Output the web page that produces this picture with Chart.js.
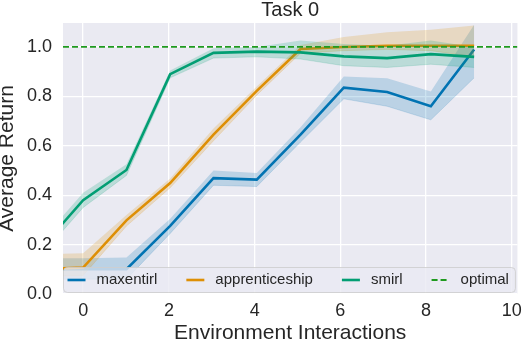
<!DOCTYPE html>
<html>
<head>
<meta charset="utf-8">
<script src="https://cdn.jsdelivr.net/npm/chart.js@4.4.1/dist/chart.umd.min.js"></script>
<style>
  html, body { margin: 0; padding: 0; background: #fff; }
  #wrap { width: 528px; height: 344px; }
</style>
</head>
<body>
<div id="wrap"><canvas id="chart-1"></canvas></div>
<script>
// values
const steps = [-1.01, 0, 1.01, 2.03, 3.04, 4.05, 5.07, 6.08, 7.09, 8.11, 9.12];

const maxentirl     = [0.10, 0.10, 0.10, 0.276, 0.469, 0.463, 0.645, 0.835, 0.818, 0.76, 0.99];
const maxentirlLow  = [0.06, 0.06, 0.06, 0.245, 0.44, 0.435, 0.615, 0.79, 0.76, 0.705, 0.875];
const maxentirlHigh = [0.145, 0.145, 0.148, 0.305, 0.50, 0.49, 0.675, 0.88, 0.873, 0.82, 1.09];

const apprenticeship     = [0.10, 0.107, 0.298, 0.449, 0.645, 0.822, 0.992, 1.0, 1.005, 1.005, 1.005];
const apprenticeshipLow  = [0.07, 0.075, 0.275, 0.43, 0.62, 0.805, 0.975, 0.985, 0.99, 0.985, 0.96];
const apprenticeshipHigh = [0.16, 0.165, 0.32, 0.468, 0.67, 0.84, 1.008, 1.04, 1.06, 1.07, 1.087];

const smirl     = [0.18, 0.38, 0.502, 0.89, 0.976, 0.981, 0.978, 0.962, 0.955, 0.971, 0.96];
const smirlLow  = [0.15, 0.35, 0.48, 0.875, 0.955, 0.96, 0.951, 0.924, 0.917, 0.93, 0.917];
const smirlHigh = [0.21, 0.41, 0.525, 0.905, 0.995, 1.0, 1.026, 1.012, 1.005, 1.026, 1.0];

const optimalValue = 1.0;

const xTicks = [0, 2, 4, 6, 8, 10];
const yTicks = [0, 0.2, 0.4, 0.6, 0.8, 1.0];
const xLimits = [-0.47, 10.13];
const yLimits = [0, 1.097];

const series = [
    { label: 'maxentirl', mean: maxentirl, low: maxentirlLow, high: maxentirlHigh, color: '#0173B2', band: 'rgba(1,115,178,0.2)' },
    { label: 'apprenticeship', mean: apprenticeship, low: apprenticeshipLow, high: apprenticeshipHigh, color: '#DE8F05', band: 'rgba(222,143,5,0.2)' },
    { label: 'smirl', mean: smirl, low: smirlLow, high: smirlHigh, color: '#029E73', band: 'rgba(2,158,115,0.2)' }
];
const optimalColor = '#1f9a1f';

const FONT = '"Liberation Sans", Arial, sans-serif';
const TEXT = '#262626';

const toPoints = (vals) => steps.map((x, i) => ({ x: x, y: vals[i] }));

// matplotlib draws later things on top; in Chart.js a lower order is drawn on top
let drawSeq = 100;
const datasets = [];
series.forEach((s) => {
    datasets.push({
        data: toPoints(s.high), borderWidth: 0, pointRadius: 0, fill: false,
        borderColor: 'transparent', order: drawSeq--, clip: 0
    });
    datasets.push({
        data: toPoints(s.low), borderWidth: 0.8, pointRadius: 0, fill: '-1',
        borderColor: s.band, backgroundColor: s.band, order: drawSeq--, clip: 0
    });
    datasets.push({
        label: s.label, data: toPoints(s.mean), borderWidth: 2.6, pointRadius: 0, fill: false,
        borderColor: s.color, order: drawSeq--, clip: 0, isLegend: true
    });
});
datasets.push({
    label: 'optimal',
    data: [{ x: xLimits[0], y: optimalValue }, { x: xLimits[1], y: optimalValue }],
    borderWidth: 1.8, borderDash: [6, 3], pointRadius: 0, fill: false,
    borderColor: optimalColor, order: drawSeq--, clip: 0, isLegend: true
});

// background, title and the in-axes legend
const decor = {
    id: 'decor',
    beforeDraw(chart) {
        const a = chart.chartArea;
        const c = chart.ctx;
        c.save();
        c.fillStyle = '#EAEAF2';
        c.fillRect(a.left, a.top, a.right - a.left, a.bottom - a.top);
        c.restore();
    },
    afterDraw(chart) {
        const a = chart.chartArea;
        const c = chart.ctx;
        c.save();
        c.fillStyle = TEXT;
        c.font = '20px ' + FONT;
        c.textAlign = 'center';
        c.textBaseline = 'alphabetic';
        c.fillText('Task 0', (a.left + a.right) / 2, 15.5);

        // legend box
        c.font = '15px ' + FONT;
        const items = chart.data.datasets.filter(d => d.isLegend);
        const boxL = a.left + 0.5, boxB = a.bottom - 1.5, boxH = 25;
        let x = boxL + 4;
        const layout = items.map((d) => {
            const it = { d: d, hx: x, tx: x + 29 };
            x = it.tx + c.measureText(d.label).width + 29;
            return it;
        });
        const boxR = x - 29 + 6.5;
        const r = 4;
        c.beginPath();
        c.roundRect(boxL, boxB - boxH, boxR - boxL, boxH, r);
        c.fillStyle = 'rgba(234,234,242,0.8)';
        c.fill();
        c.strokeStyle = 'rgba(204,204,204,0.8)';
        c.lineWidth = 1;
        c.stroke();

        const cy = boxB - boxH / 2;
        layout.forEach((it) => {
            c.beginPath();
            c.strokeStyle = it.d.borderColor;
            c.lineWidth = it.d.borderDash ? 1.8 : 2.6;
            c.setLineDash(it.d.borderDash || []);
            c.moveTo(it.hx, cy);
            c.lineTo(it.hx + 18, cy);
            c.stroke();
            c.setLineDash([]);
            c.fillStyle = TEXT;
            c.textAlign = 'left';
            c.textBaseline = 'middle';
            c.fillText(it.d.label, it.tx, cy);
        });
        c.restore();
    }
};

new Chart(document.getElementById('chart-1'), {
    type: 'line',
    data: { datasets: datasets },
    options: {
        responsive: true,
        maintainAspectRatio: false,
        animation: false,
        layout: { padding: { top: 23, right: 10, left: 0, bottom: 0 } },
        scales: {
            x: {
                type: 'linear',
                min: xLimits[0],
                max: xLimits[1],
                border: { display: false },
                grid: { color: '#ffffff', lineWidth: 1.3, drawTicks: false },
                afterBuildTicks: (scale) => { scale.ticks = xTicks.map(v => ({ value: v })); },
                afterFit: (scale) => { scale.height = 50; },
                ticks: {
                    color: TEXT, padding: 6, maxRotation: 0,
                    font: { family: FONT, size: 18 },
                    callback: (v) => String(v)
                },
                title: {
                    display: true, text: 'Environment Interactions', color: TEXT,
                    font: { family: FONT, size: 21, lineHeight: 1 },
                    padding: { top: 0, bottom: 0 }
                }
            },
            y: {
                min: yLimits[0],
                max: yLimits[1],
                border: { display: false },
                grid: { color: '#ffffff', lineWidth: 1.3, drawTicks: false },
                afterBuildTicks: (scale) => { scale.ticks = yTicks.map(v => ({ value: v })); },
                afterFit: (scale) => { scale.width = 63; },
                ticks: {
                    color: TEXT, padding: 11,
                    font: { family: FONT, size: 18 },
                    callback: (v) => v.toFixed(1)
                },
                title: {
                    display: true, text: 'Average Return', color: TEXT,
                    font: { family: FONT, size: 21, lineHeight: 1 },
                    padding: { top: -3, bottom: 0 }
                }
            }
        },
        plugins: {
            legend: { display: false },
            title: { display: false },
            tooltip: { enabled: false }
        }
    },
    plugins: [decor]
});
</script>
</body>
</html>
